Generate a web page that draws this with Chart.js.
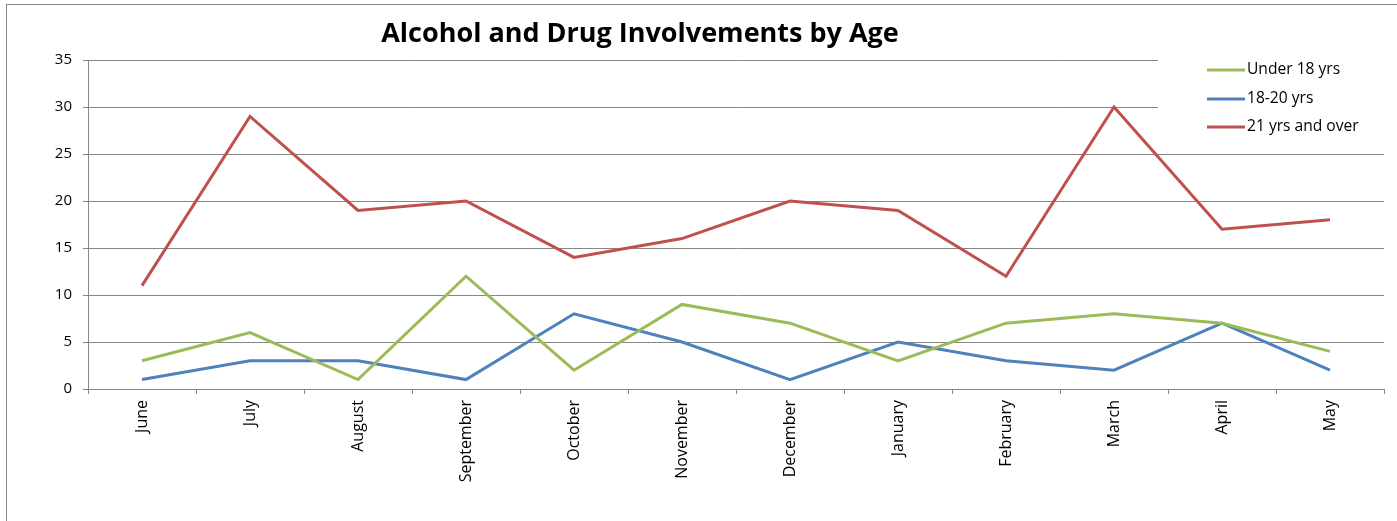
<!DOCTYPE html>
<html><head><meta charset="utf-8">
<script src="https://cdn.jsdelivr.net/npm/chart.js@4/dist/chart.umd.min.js"></script>
<style>
html,body{margin:0;padding:0;background:#fff;overflow:hidden;}
#wrap{position:relative;width:1397px;height:521px;}
#frame{position:absolute;left:6px;top:4px;width:1500px;height:700px;border:1px solid #878787;box-sizing:border-box;}
canvas{position:absolute;left:0;top:0;}
</style></head>
<body><div id="wrap"><div id="frame"></div><canvas id="c" width="1397" height="521"></canvas></div>
<script>
const months = ["June","July","August","September","October","November","December","January","February","March","April","May"];
const under18 = [3,6,1,12,2,9,7,3,7,8,7,4];
const age18to20 = [1,3,3,1,8,5,1,5,3,2,7,2];
const over21 = [11,29,19,20,14,16,20,19,12,30,17,18];
const seriesNames = ["Under 18 yrs","18-20 yrs","21 yrs and over"];
const seriesColors = ["#9BBB59","#4F81BD","#C0504D"];
const titleText = "Alcohol and Drug Involvements by Age";
const FONT = "'Open Sans', Lato, sans-serif";

const overlay = {
  id:'overlay',
  beforeDatasetsDraw(chart){
    const ctx = chart.ctx, a = chart.chartArea;
    ctx.save();
    ctx.fillStyle = '#fff';
    ctx.fillRect(1158, a.top - 2, a.right - 1158 + 1, 142 - a.top);
    ctx.restore();
  },
  afterDraw(chart){
    const ctx = chart.ctx;
    ctx.save();
    ctx.fillStyle = '#000';
    ctx.font = "bold 27px " + FONT;
    ctx.textAlign = 'center';
    ctx.textBaseline = 'middle';
    ctx.fillText(titleText, 640, 34);
    ctx.font = "15.6px " + FONT;
    ctx.textAlign = 'left';
    const ys = [70, 99, 127];
    chart.data.datasets.forEach((ds, i) => {
      ctx.strokeStyle = ds.borderColor;
      ctx.lineWidth = 3;
      ctx.beginPath();
      ctx.moveTo(1207, ys[i]);
      ctx.lineTo(1245, ys[i]);
      ctx.stroke();
      ctx.fillText(ds.label, 1247, ys[i]);
    });
    ctx.restore();
  }
};

new Chart(document.getElementById('c'), {
  type:'line',
  data:{
    labels: months,
    datasets:[
      {label:seriesNames[0], data:under18, borderColor:seriesColors[0]},
      {label:seriesNames[1], data:age18to20, borderColor:seriesColors[1]},
      {label:seriesNames[2], data:over21, borderColor:seriesColors[2]}
    ].map(d => Object.assign(d, {borderWidth:3, pointRadius:0, tension:0, fill:false}))
  },
  options:{
    responsive:false, animation:false, devicePixelRatio:1,
    layout:{padding:{left:0, top:60, right:13, bottom:0}},
    plugins:{legend:{display:false}, title:{display:false}, tooltip:{enabled:false}},
    scales:{
      x:{
        offset:true,
        grid:{display:true, drawOnChartArea:false, offset:true, color:'#878787', tickLength:5},
        border:{color:'#878787'},
        ticks:{minRotation:90, maxRotation:90, color:'#000', padding:6, font:{family:FONT, size:16}},
        afterFit(s){ s.height = 132; }
      },
      y:{
        min:0, max:35,
        grid:{color:'#878787', tickLength:5},
        border:{color:'#878787'},
        ticks:{stepSize:5, color:'#000', padding:11, font:{family:FONT, size:15}},
        afterFit(s){ s.width = 88; }
      }
    }
  },
  plugins:[overlay]
});
</script></body></html>
